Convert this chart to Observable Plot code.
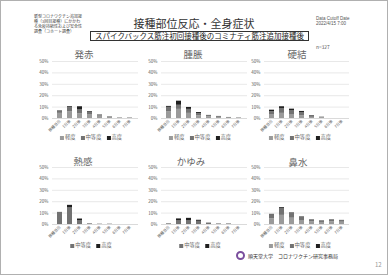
<!DOCTYPE html>
<html><head><meta charset="utf-8">
<script src="https://cdn.jsdelivr.net/npm/d3@7"></script>
<script src="https://cdn.jsdelivr.net/npm/@observablehq/plot@0.6"></script>
<style>
body{margin:0;background:#fff;font-family:"Noto Sans CJK JP","Noto Sans",sans-serif;}
#slide{position:relative;width:386px;height:273px;border:1px solid #b0b0b0;overflow:hidden;background:#fff;}
.abs{position:absolute;white-space:nowrap;}
.ptitle{font-size:9.5px;color:#666;transform:translate(-50%,-50%);}
.legend{font-size:5.3px;color:#666;transform:translate(-50%,-50%);display:flex;gap:5px;align-items:center;}
.legend span.sw{display:inline-block;width:4px;height:4px;margin-right:1px;vertical-align:middle;}
</style></head>
<body><div id="slide"></div>
<script>
const days = ["接種当日","1日後","2日後","3日後","4日後","5日後","6日後","7日後"];
const severities = ["軽度","中等度","高度"];
const sevColors = ["#9a9a9a","#727272","#1f1f1f"];
const yTicks = [0,10,20,30,40,50];

const hossekiLight = [4.5,6.0,4.0,3.0,2.0,1.0,0.5,0.5];
const hossekiMid   = [2.0,3.5,3.5,2.2,1.0,0.4,0.1,0.1];
const hossekiSev   = [0.3,0.8,2.8,0.7,0.2,0.1,0.0,0.0];

const shuchoLight = [6.0,8.0,4.5,2.5,1.5,1.0,0.5,0.5];
const shuchoMid   = [3.8,3.6,3.5,1.8,0.9,0.6,0.3,0.1];
const shuchoSev   = [0.8,3.6,1.7,0.9,0.3,0.2,0.1,0.0];

const kouketsuLight = [3.0,4.5,3.5,2.5,1.0,0.5,0.0,0.0];
const kouketsuMid   = [3.0,4.3,3.5,2.8,1.2,0.6,0.0,0.0];
const kouketsuSev   = [1.3,1.5,1.2,0.9,0.4,0.1,0.0,0.0];

const netsukanMid = [10.5,14.5,3.5,0.6,0.3,0.3,0.0,0.0];
const netsukanSev = [0.1,2.3,1.3,0.0,0.0,0.0,0.0,0.0];

const kayumiMid = [0.5,3.5,3.5,2.8,1.0,0.4,0.4,0.0];
const kayumiSev = [0.1,1.4,1.9,0.9,0.2,0.1,0.1,0.0];

const bisuiLight = [5.0,8.0,5.5,3.5,2.2,1.8,2.3,2.0];
const bisuiMid   = [3.4,6.2,4.1,3.0,1.8,1.3,1.7,1.4];
const bisuiSev   = [0.5,0.7,0.5,0.3,0.2,0.2,0.2,0.2];

const slide = document.getElementById("slide");
function addText(html, x, y, cls, style){
  const d = document.createElement("div");
  d.className = "abs " + (cls||"");
  d.style.left = x+"px"; d.style.top = y+"px";
  if (style) d.style.cssText += style;
  d.innerHTML = html;
  slide.appendChild(d);
  return d;
}

function panel(title, series, gx0, gx1, gy0, gy1, tx, ty, lx, ly){
  const rows = [];
  series.forEach(s => s.values.forEach((v,i) => rows.push({day: days[i], sev: s.sev, value: v})));
  const ml = 22, mt = 6, mr = 4, mb = 18;
  const chart = Plot.plot({
    width: ml + (gx1-gx0) + mr,
    height: mt + (gy1-gy0) + mb,
    marginLeft: ml, marginTop: mt, marginRight: mr, marginBottom: mb,
    style: {background:"transparent", fontFamily:'"Noto Sans CJK JP","Noto Sans",sans-serif', color:"#595959"},
    x: {domain: days, padding: 0.48, label: null},
    y: {domain: [0,50], label: null},
    color: {domain: severities, range: sevColors},
    marks: [
      Plot.gridY(yTicks, {stroke:"#d9d9d9", strokeOpacity:1, strokeWidth:0.6}),
      Plot.axisY(yTicks, {tickSize:0, tickPadding:4, fontSize:4.5, tickFormat: d => d+"%", label:null}),
      Plot.axisX({tickSize:0, tickPadding:2, tickRotate:-45, fontSize:3.8, label:null}),
      Plot.barY(rows, {x:"day", y:"value", fill:"sev", order: severities}),
      Plot.ruleY([0], {stroke:"#d0d0d0", strokeWidth:0.6})
    ]
  });
  chart.style.position = "absolute";
  chart.style.left = (gx0 - ml) + "px";
  chart.style.top = (gy0 - mt) + "px";
  slide.appendChild(chart);
  addText(title, tx, ty, "ptitle");
  const leg = series.map(s => `<span><span class="sw" style="background:${sevColors[severities.indexOf(s.sev)]}"></span>${s.sev}</span>`).join("");
  addText(leg, lx, ly, "legend");
}

panel("発赤", [{sev:"軽度",values:hossekiLight},{sev:"中等度",values:hossekiMid},{sev:"高度",values:hossekiSev}], 51,137,60,117, 83,53, 90,136);
panel("腫脹", [{sev:"軽度",values:shuchoLight},{sev:"中等度",values:shuchoMid},{sev:"高度",values:shuchoSev}], 160,246,60,117, 192,53, 199,136);
panel("硬結", [{sev:"軽度",values:kouketsuLight},{sev:"中等度",values:kouketsuMid},{sev:"高度",values:kouketsuSev}], 263,348,60,117, 296,53, 299,136);
panel("熱感", [{sev:"中等度",values:netsukanMid},{sev:"高度",values:netsukanSev}], 51,137,166,223, 82,160, 90,244);
panel("かゆみ", [{sev:"中等度",values:kayumiMid},{sev:"高度",values:kayumiSev}], 160,246,166,223, 190,160, 199,244);
panel("鼻水", [{sev:"軽度",values:bisuiLight},{sev:"中等度",values:bisuiMid},{sev:"高度",values:bisuiSev}], 263,348,166,223, 297,161, 299,244);

// header
addText("新型コロナワクチン追加接<br>種（3回目接種）にかかわ<br>る免疫持続性および安全性<br>調査（コホート調査）", 33, 13, "", "font-size:4px;line-height:5px;color:#444;");
addText("接種部位反応・全身症状", 193, 22, "ptitle", "font-size:11px;color:#333;");
addText("スパイクバックス筋注初回接種後のコミナティ筋注追加接種後", 89, 30, "", "font-size:7.5px;line-height:8px;color:#222;border:1px solid #333;padding:0 4px;width:209px;text-align:center;");
addText("n=327", 315, 42, "", "font-size:4.8px;color:#555;");
addText("Data Cutoff Date<br>2022/4/15 7:00", 315, 15, "", "font-size:4.5px;line-height:5px;color:#555;font-family:Arial,'Liberation Sans',sans-serif;");
// footer
addText("", 235, 250, "", "width:9px;height:9px;border-radius:50%;border:2px solid #7b4f9d;box-sizing:border-box;");
addText("順天堂大学　コロナワクチン研究事務局", 247, 251, "", "font-size:5px;color:#333;");
addText("12", 374, 259, "", "font-size:6px;color:#999;");
</script></body></html>
